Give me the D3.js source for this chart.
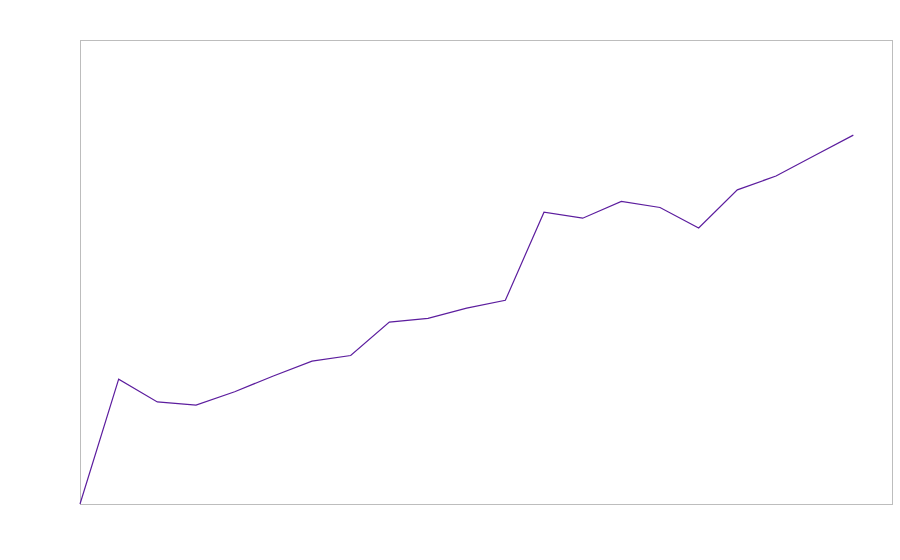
<!DOCTYPE html>
<meta charset="utf-8">
<style>
  body { margin: 0; background: #fff; }
</style>
<script src="https://d3js.org/d3.v7.min.js"></script>
<div id="chart"></div>
<script>
  // data (x = step index, y = value on a 0-100 scale)
  var steps = d3.range(0, 21);
  var values = [0, 26.9, 22.0, 21.3, 24.2, 27.6, 30.8, 32.0, 39.2, 40.0, 42.2,
                43.9, 62.9, 61.6, 65.2, 63.9, 59.5, 67.7, 70.7, 75.1, 79.5];

  var margin = {top: 40, right: 8, bottom: 56, left: 80},
      width = 900 - margin.left - margin.right,
      height = 560 - margin.top - margin.bottom;

  var svg = d3.select("#chart")
    .append("svg")
      .attr("width", 900)
      .attr("height", 560)
    .append("g")
      .attr("transform", "translate(" + margin.left + "," + margin.top + ")");

  var x = d3.scaleLinear().domain([0, 21]).range([0, width]);
  var y = d3.scaleLinear().domain([0, 100]).range([height, 0]);

  // frame
  svg.append("rect")
    .attr("x", 0.5)
    .attr("y", 0.5)
    .attr("width", width)
    .attr("height", height)
    .style("fill", "none")
    .style("stroke", "#bdbdbd")
    .style("stroke-width", 1);

  var line = d3.line()
    .x(function(d, i) { return x(steps[i]); })
    .y(function(d) { return y(d); });

  svg.append("path")
    .datum(values)
    .attr("d", line)
    .style("fill", "none")
    .style("stroke", "#5c1d9e")
    .style("stroke-width", 1.2);
</script>
